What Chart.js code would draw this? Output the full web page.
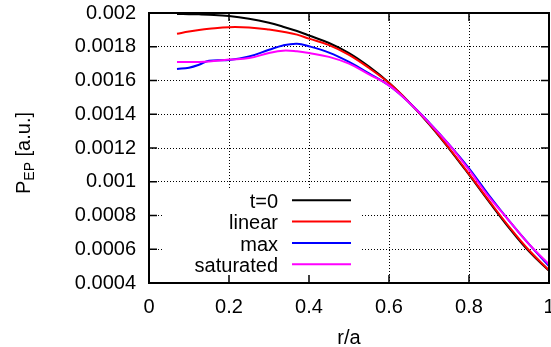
<!DOCTYPE html>
<html>
<head>
<meta charset="utf-8">
<script src="https://cdn.jsdelivr.net/npm/chart.js@4.4.1/dist/chart.umd.min.js"></script>
<style>
  html, body { margin: 0; padding: 0; background: #fff; }
</style>
</head>
<body>
<canvas id="profile" width="551" height="347"></canvas>
<script>
// radial positions r/a shared by all four profiles
const radius = [0.07, 0.1, 0.125, 0.15, 0.2, 0.25, 0.3, 0.335, 0.37, 0.4, 0.45,
                0.5, 0.55, 0.6, 0.65, 0.7, 0.75, 0.8, 0.85, 0.9, 0.95, 1.0];

// EP pressure profiles [a.u.]
const pInitial = [0.001994, 0.001993, 0.001992, 0.00199, 0.001982, 0.001966, 0.001942, 0.001919, 0.001893, 0.001867, 0.001822,
                  0.001762, 0.001682, 0.001587, 0.001472, 0.001342, 0.001197, 0.001042, 0.000882, 0.000727, 0.000587, 0.000472];
const pLinear = [0.001877, 0.00189, 0.001899, 0.001906, 0.001916, 0.001914, 0.001902, 0.001889, 0.001872, 0.001848, 0.00181,
                 0.001752, 0.001674, 0.001585, 0.001472, 0.001344, 0.0012, 0.001047, 0.000888, 0.000734, 0.000594, 0.000476];
const pMax = [0.001668, 0.001676, 0.001693, 0.001717, 0.001722, 0.001742, 0.001782, 0.001808, 0.001818, 0.001803, 0.001765,
              0.00171, 0.001642, 0.00157, 0.00147, 0.001352, 0.001222, 0.00108, 0.00092, 0.00077, 0.00063, 0.0005];
const pSaturated = [0.00171, 0.00171, 0.00171, 0.001713, 0.001724, 0.001733, 0.001763, 0.001777, 0.001773, 0.001763, 0.00174,
                    0.0017, 0.001636, 0.001571, 0.00147, 0.00135, 0.00122, 0.00107, 0.00091, 0.00077, 0.00063, 0.00051];

const seriesNames = ['t=0', 'linear', 'max', 'saturated'];
const xTicks = [0, 0.2, 0.4, 0.6, 0.8, 1];
const yTicks = [0.0004, 0.0006, 0.0008, 0.001, 0.0012, 0.0014, 0.0016, 0.0018, 0.002];

const FONT = '"Liberation Sans", Arial, sans-serif';
const colors = ['#000000', '#ff0000', '#0000ff', '#ff00ff'];

function toPoints(values) {
    return radius.map((r, i) => ({ x: r, y: values[i] }));
}

// frame, inner tics, key and axis titles drawn gnuplot-style
const gnuplotFrame = {
    id: 'gnuplotFrame',
    beforeDatasetsDraw(chart) {
        const { ctx } = chart;
        // opaque key box hides the grid behind it
        ctx.save();
        ctx.fillStyle = '#ffffff';
        ctx.fillRect(163, 188, 199, 95);
        ctx.restore();
    },
    afterDraw(chart) {
        const { ctx, chartArea: a, scales: { x, y } } = chart;
        ctx.save();
        ctx.strokeStyle = '#000';
        ctx.lineWidth = 1.5;
        ctx.beginPath();
        xTicks.forEach(v => {
            const px = x.getPixelForValue(v);
            ctx.moveTo(px, a.bottom); ctx.lineTo(px, a.bottom - 8);
            ctx.moveTo(px, a.top); ctx.lineTo(px, a.top + 8);
        });
        yTicks.forEach(v => {
            const py = y.getPixelForValue(v);
            ctx.moveTo(a.left, py); ctx.lineTo(a.left + 8, py);
            ctx.moveTo(a.right, py); ctx.lineTo(a.right - 8, py);
        });
        ctx.stroke();

        ctx.lineWidth = 2;
        ctx.strokeRect(a.left, a.top, a.right - a.left, a.bottom - a.top);

        // key
        ctx.font = '20px ' + FONT;
        ctx.fillStyle = '#000';
        ctx.textAlign = 'right';
        ctx.textBaseline = 'alphabetic';
        seriesNames.forEach((name, i) => {
            const base = 208 + i * 21.3;
            ctx.fillText(name, 278, base);
            ctx.strokeStyle = colors[i];
            ctx.lineWidth = 2;
            ctx.beginPath();
            ctx.moveTo(292, base - 7.7);
            ctx.lineTo(351, base - 7.7);
            ctx.stroke();
        });

        // x title
        ctx.textAlign = 'center';
        ctx.fillText('r/a', (a.left + a.right) / 2, 344);

        // y title with subscript, rotated
        ctx.translate(30, 153);
        ctx.rotate(-Math.PI / 2);
        const big = '20px ' + FONT, small = '14px ' + FONT;
        ctx.font = big;
        const wP = ctx.measureText('P').width;
        const wTail = ctx.measureText(' [a.u.]').width;
        ctx.font = small;
        const wSub = ctx.measureText('EP').width;
        let cx = -(wP + wSub + wTail) / 2;
        ctx.textAlign = 'left';
        ctx.font = big;
        ctx.fillText('P', cx, 0);
        cx += wP;
        ctx.font = small;
        ctx.fillText('EP', cx, 4);
        cx += wSub;
        ctx.font = big;
        ctx.fillText(' [a.u.]', cx, 0);
        ctx.restore();
    }
};

const datasets = [pInitial, pLinear, pMax, pSaturated].map((vals, i) => ({
    label: seriesNames[i],
    data: toPoints(vals),
    borderColor: colors[i],
    borderWidth: 2,
    pointRadius: 0,
    fill: false,
    tension: 0.4,
    order: 3 - i,
}));

new Chart(document.getElementById('profile'), {
    type: 'line',
    data: { datasets },
    plugins: [gnuplotFrame],
    options: {
        responsive: false,
        animation: false,
        devicePixelRatio: 1,
        layout: { padding: { left: 0, right: 2, top: 13, bottom: 0 } },
        plugins: { legend: { display: false }, tooltip: { enabled: false } },
        scales: {
            x: {
                type: 'linear',
                min: 0,
                max: 1,
                afterBuildTicks: s => { s.ticks = xTicks.map(v => ({ value: v })); },
                afterFit: s => { s.height = 64; s.paddingLeft = 0; s.paddingRight = 0; },
                grid: { color: '#000', lineWidth: 1, drawTicks: false },
                border: { display: false, dash: [1, 2] },
                ticks: {
                    color: '#000',
                    font: { family: FONT, size: 20 },
                    padding: 12,
                    maxRotation: 0,
                    autoSkip: false,
                    callback: v => String(v),
                },
            },
            y: {
                type: 'linear',
                min: 0.0004,
                max: 0.002,
                afterBuildTicks: s => { s.ticks = yTicks.map(v => ({ value: v })); },
                afterFit: s => { s.width = 149; s.paddingTop = 0; s.paddingBottom = 0; },
                grid: { color: '#000', lineWidth: 1, drawTicks: false },
                border: { display: false, dash: [1, 2] },
                ticks: {
                    color: '#000',
                    font: { family: FONT, size: 20 },
                    padding: 13,
                    autoSkip: false,
                    callback: v => String(Number(v.toPrecision(4))),
                },
            },
        },
    },
});
</script>
</body>
</html>
